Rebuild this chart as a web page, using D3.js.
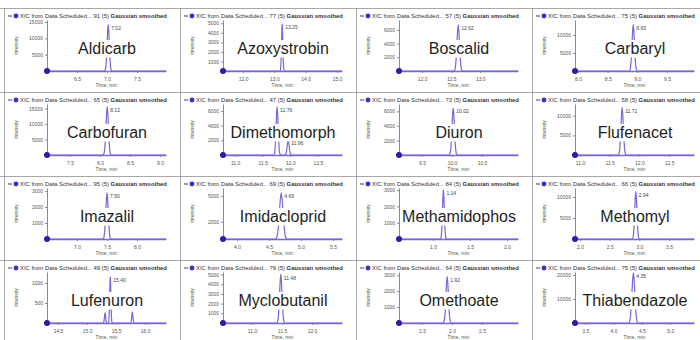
<!DOCTYPE html>
<html><head><meta charset="utf-8">
<script src="https://cdn.jsdelivr.net/npm/d3@7"></script>
<style>
html,body{margin:0;padding:0;background:#fff;overflow:hidden}
svg{display:block;font-family:"Liberation Sans",Arial,sans-serif}
</style></head><body>
<svg id="chart" width="700" height="340"></svg>
<script>
// ---- data ----
const compounds = ["Aldicarb","Azoxystrobin","Boscalid","Carbaryl",
  "Carbofuran","Dimethomorph","Diuron","Flufenacet",
  "Imazalil","Imidacloprid","Methamidophos","Methomyl",
  "Lufenuron","Myclobutanil","Omethoate","Thiabendazole"];
const headerScans = ["91 (5)","77 (5)","57 (5)","75 (5)","65 (5)","47 (5)","73 (5)","58 (5)",
  "95 (5)","69 (5)","84 (5)","66 (5)","49 (5)","79 (5)","64 (5)","75 (5)"];
const xDomains = [[6.0,7.983],[11.36,15.16],[11.60,13.65],[7.95,9.953],
  [7.117,9.10],[10.78,12.935],[9.117,11.1],[10.916,12.92],
  [6.5,8.483],[3.78,5.64],[0.54,2.148],[1.916,3.92],
  [14.31,16.36],[10.517,12.5],[1.117,3.10],[3.32,5.42]];
const xTickValues = [[6.5,7.0,7.5],[12,13,14,15],[12.0,12.5,13.0],[8.0,8.5,9.0,9.5],
  [7.5,8.0,8.5,9.0],[11.0,11.5,12.0,12.5],[9.5,10.0,10.5],[11.0,11.5,12.0,12.5],
  [7.0,7.5,8.0],[4.0,4.5,5.0,5.5],[1.0,1.5,2.0],[2.0,2.5,3.0,3.5],
  [14.5,15.0,15.5,16.0],[11.0,11.5,12.0],[1.5,2.0,2.5],[3.5,4.0,4.5,5.0]];
const yMaxValues = [15600,5340,7450,14170,16450,6940,7000,13000,
  3190,5930,3130,12140,1275,5260,3200,21250];
const yTickValues = [[5000,10000,15000],[1000,2000,3000,4000,5000],[2000,4000,6000],[5000,10000],
  [5000,10000,15000],[2000,4000,6000],[2000,4000,6000],[5000,10000],
  [1000,2000,3000],[2000,5000],[1000,2000,3000],[5000,10000],
  [500,1000],[1000,2000,3000,4000,5000],[1000,2000,3000],[10000,20000]];
const peakTimes = [[7.02],[13.25],[12.62],[8.93],[8.12],[11.76,11.96],[10.02],[11.71],
  [7.50],[4.69],[1.14],[2.94],[15.31,15.40,15.78],[11.48],[1.92],[4.35]];
const peakHeights = [[14070],[4920],[6700],[12800],[15500],[6530,2000],[6400],[12000],
  [2870],[5350],[3000],[11200],[250,1150,275],[5000],[2900],[20800]];
const peakSigmas = [0.018,0.02,0.022,0.02,0.02,0.018,0.02,0.02,
  0.02,0.027,0.012,0.018,0.01,0.02,0.02,0.025];
const peakLabelled = [[1],[1],[1],[1],[1],[1,1],[1],[1],[1],[1],[1],[1],[0,1,0],[1],[1],[1]];
// normalised peak profile (offset in widths, relative height)
const peakProfile = [[-3.2,0],[-2.5,0.04],[-2,0.14],[-1.5,0.32],[-1,0.61],[-0.5,0.88],[0,1],
  [0.5,0.88],[1,0.61],[1.5,0.32],[2,0.14],[2.5,0.04],[3.2,0]];

// ---- layout ----
const svg = d3.select("#chart");
const colScale = d3.scaleLinear().domain([0,4]).range([5,709]);
const rowScale = d3.scaleLinear().domain([0,4]).range([8,344]);
const traceColor = "#7568d8";
const plotL = 42, plotR = 161, plotB = 63, plotT = 12;

svg.append("rect").attr("width",700).attr("height",340).attr("fill","#fff");

compounds.forEach((name,i)=>{
  const c = i%4, r = Math.floor(i/4);
  const g = svg.append("g").attr("transform",`translate(${colScale(c)},${rowScale(r)})`);
  const x = d3.scaleLinear().domain(xDomains[i]).range([plotL,plotR]);
  const y = d3.scaleLinear().domain([0,yMaxValues[i]]).range([plotB,plotT]);

  // header
  g.append("line").attr("x1",3).attr("x2",7).attr("y1",8).attr("y2",8)
    .attr("stroke","#3a34c4").attr("stroke-width",1);
  g.append("circle").attr("cx",11).attr("cy",8).attr("r",2.4).attr("fill","#3a30c8");
  const ht = g.append("text").attr("x",15).attr("y",9.8).attr("font-size",5)
    .attr("fill","#333").attr("textLength",147).attr("lengthAdjust","spacingAndGlyphs");
  ht.append("tspan").text("XIC from Data Scheduled...   ");
  ht.append("tspan").text(headerScans[i] + " ");
  ht.append("tspan").attr("font-weight","bold").text("Gaussian smoothed");

  // y axis label
  g.append("text").attr("transform",`translate(13,${(plotB+plotT)/2}) rotate(-90)`)
    .attr("text-anchor","middle").attr("font-size",5).attr("fill","#555").text("Intensity");

  // axes
  const ya = g.append("g").attr("transform",`translate(${plotL},0)`)
    .call(d3.axisLeft(y).tickValues(yTickValues[i]).tickSize(2).tickSizeOuter(0)
      .tickPadding(2).tickFormat(d3.format("d")));
  ya.select(".domain").attr("stroke","#8a8a8a");
  ya.selectAll(".tick line").attr("stroke","#8a8a8a");
  ya.selectAll("text").attr("font-size",5).attr("fill","#555").attr("font-family",null);

  const xa = g.append("g").attr("transform",`translate(0,${plotB})`)
    .call(d3.axisBottom(x).tickValues(xTickValues[i]).tickSize(2).tickSizeOuter(0)
      .tickPadding(4).tickFormat(d3.format(".1f")));
  xa.select(".domain").attr("stroke",traceColor).attr("stroke-width",1.6);
  xa.selectAll(".tick line").attr("stroke","#8a8a8a");
  xa.selectAll("text").attr("font-size",5).attr("fill","#555").attr("font-family",null);

  g.append("text").attr("x",(plotL+plotR)/2).attr("y",plotB+16).attr("text-anchor","middle")
    .attr("font-size",5).attr("fill","#555").text("Time, min");

  // trace
  const pts = [[xDomains[i][0],0]];
  peakTimes[i].forEach((t,k)=>{
    peakProfile.forEach(p=>pts.push([t+p[0]*peakSigmas[i], p[1]*peakHeights[i][k]]));
  });
  pts.push([xDomains[i][1],0]);
  pts.sort((a,b)=>a[0]-b[0]);
  g.append("path").datum(pts)
    .attr("d",d3.line().x(d=>x(d[0])).y(d=>y(d[1])))
    .attr("fill","none").attr("stroke",traceColor).attr("stroke-width",1.2)
    .attr("stroke-linejoin","round");
  g.append("circle").attr("cx",x(xDomains[i][0])).attr("cy",y(0)).attr("r",3).attr("fill","#2a1ca8");

  // compound name with white box
  const nt = g.append("text").attr("x",102).attr("y",45.5).attr("text-anchor","middle")
    .attr("font-size",16).attr("fill","#1e1e1e").text(name);
  const bb = nt.node().getBBox();
  g.insert("rect", () => nt.node())
    .attr("x",bb.x-2).attr("y",bb.y+0.5).attr("width",bb.width+4).attr("height",bb.height+0.5)
    .attr("fill","#fff");

  // peak labels
  peakTimes[i].forEach((t,k)=>{
    if(!peakLabelled[i][k]) return;
    g.append("text").attr("x",x(t)+3).attr("y",y(peakHeights[i][k])+5)
      .attr("font-size",5).attr("fill","#444").text(t.toFixed(2));
  });
});

// panel separators
const sep = svg.append("g").attr("stroke","#a8a8a8").attr("stroke-width",1);
d3.range(4).forEach(r=>sep.append("line").attr("x1",0).attr("x2",700)
  .attr("y1",Math.round(rowScale(r))+0.5).attr("y2",Math.round(rowScale(r))+0.5));
d3.range(4).forEach(c=>sep.append("line").attr("x1",Math.round(colScale(c))-0.5).attr("x2",Math.round(colScale(c))-0.5)
  .attr("y1",rowScale(0)).attr("y2",340));
</script>
</body></html>
